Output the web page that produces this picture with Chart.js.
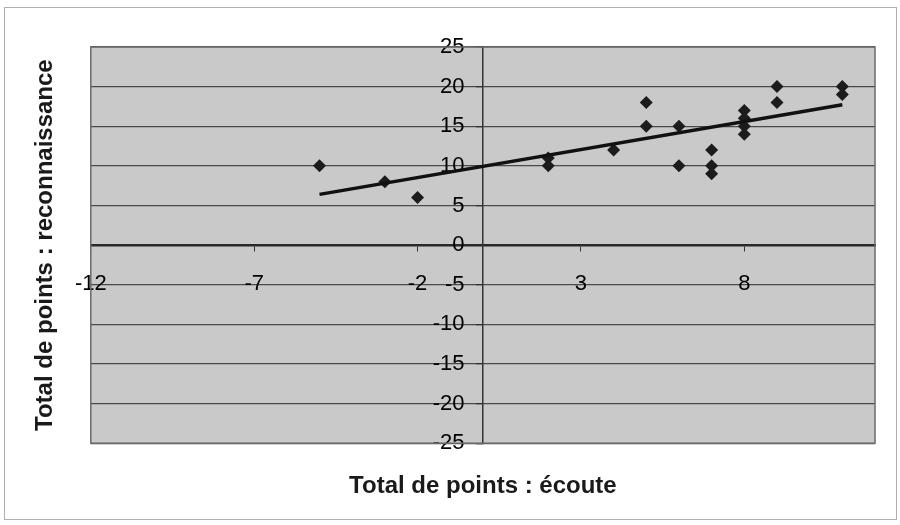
<!DOCTYPE html>
<html>
<head>
<meta charset="utf-8">
<script src="https://cdn.jsdelivr.net/npm/chart.js@4/dist/chart.umd.min.js"></script>
<style>
  html, body { margin: 0; padding: 0; background: #fff; }
  #wrap { position: relative; width: 900px; height: 525px; }
</style>
</head>
<body>
<div id="wrap"><canvas id="c" width="900" height="525"></canvas></div>
<script>
// values
var ecoute         = [-5, -3, -2, 2, 2, 4, 5, 5, 6, 6, 7, 7, 7, 8, 8, 8, 8, 9, 9, 11, 11]
  , reconnaissance = [10, 8, 6, 11, 10, 12, 18, 15, 15, 10, 12, 10, 9, 17, 16, 15, 14, 20, 18, 20, 19]
  , trendX         = [-5, 11]
  , trendY         = [6.4, 17.7]
  , xTicks         = [-12, -7, -2, 3, 8]
  , xTitle         = "Total de points : écoute"
  , yTitle         = "Total de points : reconnaissance"

var TICK_FONT  = {family: "'Liberation Sans', Arial", size: 22}
  , TITLE_FONT = {family: "'Liberation Sans', Arial", size: 24, weight: "bold"}

function pairs(xs, ys) {
  return xs.map(function(x, i) { return {x: x, y: ys[i]} })
}

// grey plot area + thin frame round the whole picture
var backdrop =
  { id: "backdrop"
  , beforeDraw: function(chart) {
      var ctx = chart.ctx, a = chart.chartArea
      ctx.save()
      ctx.strokeStyle = "#b0b0b0"
      ctx.lineWidth = 1
      ctx.strokeRect(4.5, 7.5, 892, 512)
      ctx.fillStyle = "#c9c9c9"
      ctx.fillRect(a.left, a.top, a.right - a.left, a.bottom - a.top)
      ctx.restore()
    }
  , afterDatasetsDraw: function(chart) {
      var ctx = chart.ctx, a = chart.chartArea
      ctx.save()
      ctx.strokeStyle = "#6a6a6a"
      ctx.lineWidth = 1.5
      ctx.strokeRect(a.left, a.top, a.right - a.left, a.bottom - a.top)
      ctx.restore()
    }
  }

new Chart(document.getElementById("c"), {
  type: "scatter",
  data: {
    datasets:
      [ { label: "points"
        , data: pairs(ecoute, reconnaissance)
        , pointStyle: "rectRot"
        , pointRadius: 6.5
        , pointHoverRadius: 6.5
        , backgroundColor: "#1c1c1c"
        , borderColor: "#1c1c1c"
        , borderWidth: 0
        , order: 1
        }
      , { label: "tendance"
        , data: pairs(trendX, trendY)
        , showLine: true
        , borderColor: "#111"
        , borderWidth: 3.5
        , pointRadius: 0
        , order: 0
        }
      ]
  },
  options: {
    responsive: false,
    animation: false,
    events: [],
    layout: { padding: { top: 47, right: 25, bottom: 0, left: 0 } },
    plugins: {
      legend: { display: false },
      tooltip: { enabled: false },
      title: {
        display: true, text: xTitle, position: "bottom", fullSize: false,
        color: "#1a1a1a", font: TITLE_FONT, padding: { top: 29, bottom: 24 }
      },
      subtitle: {
        display: true, text: yTitle, position: "left", fullSize: false,
        color: "#1a1a1a", font: TITLE_FONT, padding: { top: 31, bottom: 31 }
      }
    },
    scales: {
      x: {
        type: "linear",
        position: { y: 0 },
        min: -12, max: 12,
        afterBuildTicks: function(scale) {
          scale.ticks = xTicks.map(function(v) { return {value: v} })
        },
        afterFit: function(scale) { scale.height = 0 },
        grid: { drawOnChartArea: false, drawTicks: true, tickLength: 5, color: "#333", tickColor: "#333" },
        border: { display: true, color: "#2a2a2a", width: 2.5 },
        ticks: { color: "#000", font: TICK_FONT, padding: 21, maxRotation: 0, autoSkip: false }
      },
      y: {
        type: "linear",
        position: { x: 0 },
        min: -25, max: 25,
        ticks: {
          stepSize: 5, color: "#000", font: TICK_FONT,
          // the label sits just left of the centre axis, as in the scan
          callback: function(v) { return v + "   " }
        },
        afterFit: function(scale) { scale.width = 0 },
        grid: { color: "#4a4a4a", lineWidth: 1.3, drawTicks: true, tickLength: 6, tickColor: "#333" },
        border: { display: true, color: "#333", width: 1.5 }
      }
    }
  },
  plugins: [backdrop]
})
</script>
</body>
</html>
